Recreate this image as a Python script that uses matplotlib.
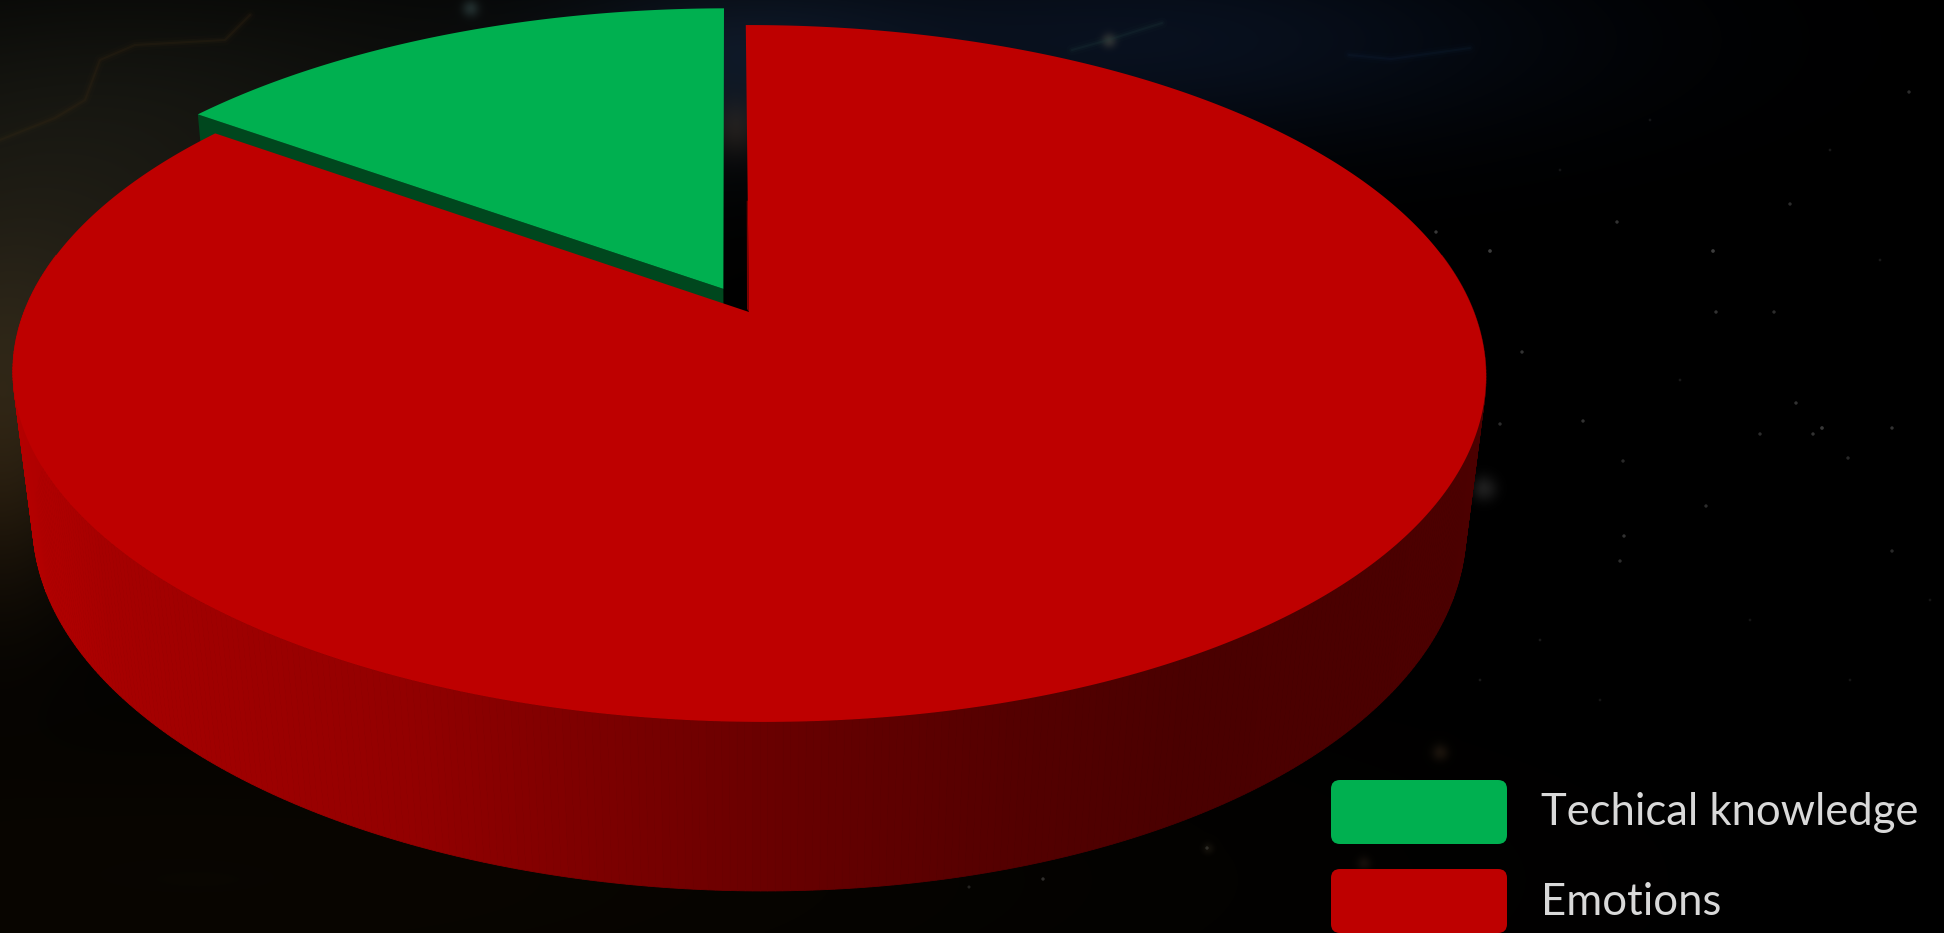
import numpy as np
import matplotlib
matplotlib.use("Agg")
import matplotlib.pyplot as plt
from matplotlib.patches import Polygon, FancyBboxPatch
from matplotlib.colors import LinearSegmentedColormap

# ---- chart values ----
categories = ["Techical knowledge", "Emotions"]
values = [15, 85]
top_colors = ["#00B050", "#BE0000"]
green_wall_color = "#00471E"
explode = [0.078, 0.0]

# ---- scene decoration: (x, y, size, brightness) ----
stars = [
    (1490, 251, 7, .30), (1713, 251, 7, .30), (1617, 222, 6, .25), (1790, 204, 6, .22),
    (1909, 92, 6, .22), (1436, 232, 6, .28), (1716, 312, 6, .25), (1774, 312, 6, .22),
    (1522, 352, 6, .25), (1796, 403, 6, .25), (1822, 428, 7, .28), (1813, 434, 6, .25),
    (1892, 428, 6, .25), (1760, 434, 6, .22), (1583, 421, 6, .25), (1500, 424, 6, .22),
    (1848, 458, 6, .20), (1623, 461, 6, .20), (1706, 506, 6, .22), (1624, 536, 6, .25),
    (1892, 551, 6, .20), (1620, 561, 6, .22), (1043, 879, 6, .22), (969, 887, 5, .16),
    (1207, 848, 6, .16), (1560, 170, 4, .10), (1650, 120, 4, .10), (1830, 150, 4, .12),
    (1880, 260, 4, .12), (1540, 640, 4, .12), (1600, 700, 4, .10), (1750, 620, 4, .10),
    (1850, 680, 4, .10), (1930, 600, 4, .10), (1480, 680, 4, .12), (1680, 380, 4, .12),
]
wisps = [
    ([0, 30, 55, 85, 100, 135, 225, 250], [140, 128, 118, 100, 60, 45, 40, 15], "#3A2A15"),
    ([1072, 1108, 1162], [50, 40, 23], "#1E3A3A"),
    ([1349, 1391, 1470], [55, 59, 48], "#12233A"),
]
# (x, y, spread_x, spread_y, rgb)
haze = [
    (30, 330, 220, 140, (36, 32, 22)),
    (0, 470, 50, 110, (20, 12, 3)),
    (180, 90, 360, 100, (14, 15, 12)),
    (1150, 40, 280, 75, (8, 16, 30)),
    (735, 60, 130, 60, (8, 15, 26)),
    (735, 128, 16, 20, (24, 16, 8)),
    (200, 880, 700, 130, (9, 6, 1)),
    (1483, 488, 9, 9, (30, 30, 30)),
    (1439, 752, 6, 6, (24, 18, 12)),
    (1363, 863, 5, 5, (18, 13, 10)),
    (1207, 848, 4, 4, (16, 14, 10)),
    (1108, 40, 5, 5, (40, 34, 22)),
    (470, 8, 6, 6, (24, 34, 34)),
]

# ---- projection of the pie plane onto the canvas ----
CX, CY = 749.0, 312.0
BX, AY = 725.0, 337.6
PERSP, SINK, DROP = 0.1765, 0.027, 154.8
ROTATION = 0.3
FRONT_LEAN = 15.0


def project(px, py, depth=0.0):
    px, py = np.asarray(px, float), np.asarray(py, float)
    w = 1 + PERSP * py + SINK * depth
    lean = FRONT_LEAN * np.minimum(py, 0.0) ** 2
    return CX + BX * px / w + lean, CY - (AY * py - DROP * depth) / w


def arc(a0, a1, depth=0.0, n=200, off=(0.0, 0.0)):
    t = np.radians(np.linspace(a0, a1, n))
    return project(np.cos(t) + off[0], np.sin(t) + off[1], depth)


fig = plt.figure(figsize=(19.44, 9.33), dpi=100, facecolor="black")
ax = fig.add_axes([0, 0, 1, 1])
ax.set_xlim(0, 1944)
ax.set_ylim(933, 0)
ax.axis("off")

# backdrop: soft coloured haze
yy, xx = np.mgrid[0:933, 0:1944]
bg = np.zeros((933, 1944, 3))
for hx, hy, sx, sy, rgb in haze:
    g = np.exp(-((xx - hx) / sx) ** 2 / 2 - ((yy - hy) / sy) ** 2 / 2)
    bg += g[..., None] * np.array(rgb)
ax.imshow(np.clip(bg, 0, 255).astype(np.uint8), extent=(0, 1944, 933, 0),
          aspect="auto", interpolation="bilinear", zorder=0)
for wx, wy, c in wisps:
    for lw, a in ((8, .06), (4, .12), (1.5, .22)):
        ax.plot(wx, wy, color=c, lw=lw, alpha=a, solid_capstyle="round",
                solid_joinstyle="round", zorder=1)
ax.scatter([s[0] for s in stars], [s[1] for s in stars], s=[s[2] for s in stars],
           color=[(1, 1, 1, s[3] * .8) for s in stars], lw=0, zorder=1)

# slice angles, counter-clockwise from twelve o'clock
span = 360.0 * np.array(values) / sum(values)
g0, g1 = 90 + ROTATION, 90 + ROTATION + span[0]
r0, r1 = g1, g1 + span[1]
mid = np.radians((g0 + g1) / 2)
g_off = (explode[0] * np.cos(mid), explode[0] * np.sin(mid))

# exposed wall of the green slice
gx0, gy0 = project(np.cos(np.radians(g1)) + g_off[0], np.sin(np.radians(g1)) + g_off[1])
gxa, gya = project(*g_off)
gx1, gy1 = project(np.cos(np.radians(g1)) + g_off[0], np.sin(np.radians(g1)) + g_off[1], 1)
gxb, gyb = project(*g_off, 1)
ax.add_patch(Polygon([(gx0, gy0), (gxa, gya), (gxb, gyb), (gx1, gy1)],
                     fc=green_wall_color, ec="none", zorder=3))
# green top face
ax_, ay_ = arc(g0, g1, off=g_off)
ax.add_patch(Polygon(np.c_[np.r_[gxa, ax_], np.r_[gya, ay_]], fc=top_colors[0],
                     ec="none", zorder=4))

# outer wall of the red slice, shaded left to right
wall_cmap = LinearSegmentedColormap.from_list(
    "wall", [(0.0, "#B40000"), (0.06, "#A60000"), (0.27, "#920000"), (0.36, "#820000"),
             (0.52, "#680000"), (0.68, "#540000"), (0.80, "#4A0000"), (1.0, "#4C0000")])
angles = np.linspace(170, 370, 400)
for a, b in zip(angles[:-1], angles[1:]):
    xt, yt = arc(a, b, 0, n=2)
    xb, yb = arc(a, b, 1, n=2)
    c = wall_cmap(np.clip((xt.mean() - 12) / 1475, 0, 1))
    ax.add_patch(Polygon(np.c_[np.r_[xt, xb[::-1]], np.r_[yt, yb[::-1]]], fc=c, ec=c,
                         lw=.6, zorder=5))

# thin inner wall of the red slice beside the gap
edge_x, edge_y = project(np.cos(np.radians(r1)) * np.array([0.35, 0.0]),
                         np.sin(np.radians(r1)) * np.array([0.35, 0.0]))
ax.add_patch(Polygon([(edge_x[0] - 1, edge_y[0]), (edge_x[1] - 2, edge_y[1] - 3), (edge_x[1], edge_y[1]),
                      (edge_x[0], edge_y[0])], fc="#7A0000", ec="none", zorder=6))

# red top face
rx_, ry_ = arc(r0, r1, n=500)
ax.add_patch(Polygon(np.c_[np.r_[CX, rx_], np.r_[CY, ry_]], fc=top_colors[1], ec="none", zorder=7))

# legend
swatch_tops = [780, 869]
baselines = [825, 915]
for lab, col, top, base in zip(categories, top_colors, swatch_tops, baselines):
    ax.add_patch(FancyBboxPatch((1339, top + 8), 160, 48, boxstyle="round,pad=8,rounding_size=9",
                                fc=col, ec="none", zorder=8, mutation_aspect=1))
    ax.text(1541, base, lab, color="#D9D9D9", fontsize=31.4, family="Lato", va="baseline",
            ha="left", zorder=8)

fig.savefig("out.png", dpi=100, facecolor="black")
